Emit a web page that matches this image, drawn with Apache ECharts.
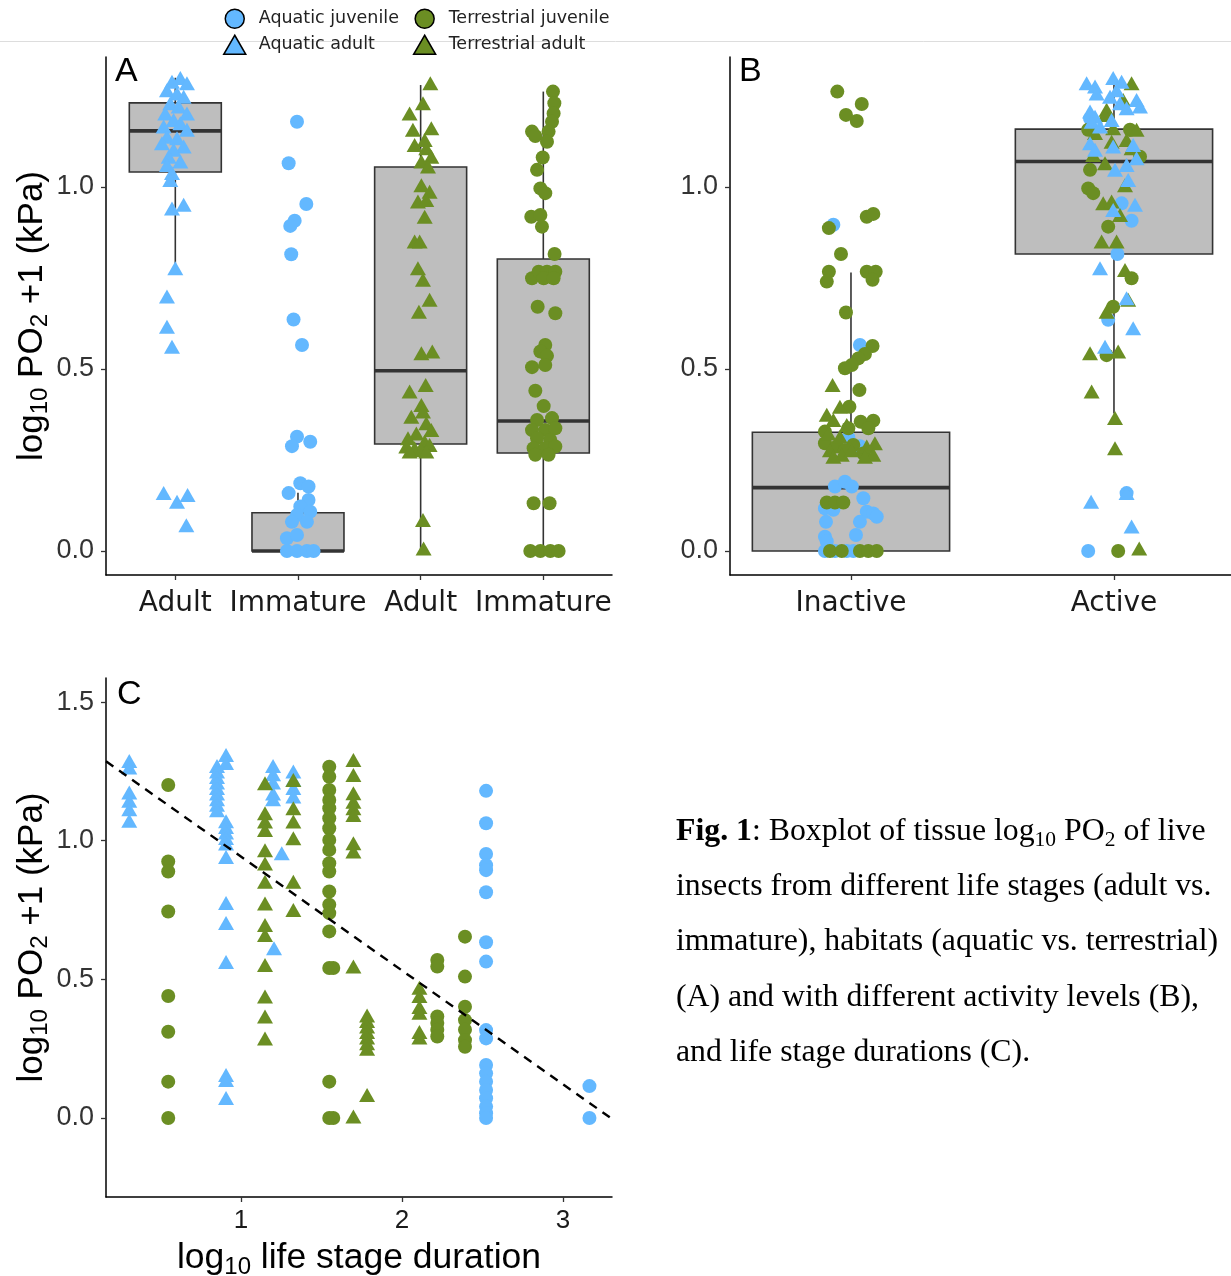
<!DOCTYPE html>
<html>
<head>
<meta charset="utf-8">
<script src="https://cdn.jsdelivr.net/npm/echarts@6/dist/echarts.min.js"></script>
<style>html,body{margin:0;padding:0;background:#fff;}#c{width:1231px;height:1276px;}</style>
</head>
<body>
<div id="c"></div>
<script>
// ---------- DATA ----------
const catA = ['Adult', 'Immature', 'Adult', 'Immature'];
const catB = ['Inactive', 'Active'];
const ticksYAB = [0, 0.5, 1.0];
const ticksYC = [0, 0.5, 1.0, 1.5];
const ticksXC = [1, 2, 3];

// boxes: [position, lowerWhisker, Q1, median, Q3, upperWhisker]
const boxA = [[1, 0.783, 1.041, 1.154, 1.231, 1.30], [2, 0, 0, 0, 0.105, 0.16], [3, 0, 0.294, 0.495, 1.055, 1.28], [4, 0, 0.269, 0.357, 0.802, 1.262]];
const boxB = [[1, 0, 0, 0.174, 0.326, 0.765], [2, 0.378, 0.816, 1.070, 1.159, 1.30]];

// Panel A jittered points [x, y]
const aqAdultA = [[0.973,1.289],[1.041,1.299],[1.095,1.285],[0.932,1.266],[1.014,1.257],[1.068,1.248],[0.959,1.230],[1.027,1.221],[0.918,1.202],[1.095,1.202],[0.986,1.184],[1.041,1.175],[0.905,1.166],[1.095,1.157],[0.932,1.138],[1.014,1.134],[0.891,1.120],[1.068,1.111],[0.986,1.102],[0.946,1.083],[1.041,1.070],[0.932,1.060],[0.973,1.038],[0.959,1.019],[0.973,0.941],[1.068,0.951],[1.000,0.777],[0.932,0.699],[0.932,0.616],[0.973,0.561],[0.905,0.159],[1.014,0.135],[1.100,0.154],[1.090,0.071]];
const aqJuvA = [[1.992,1.179],[1.924,1.065],[2.068,0.953],[1.973,0.907],[1.937,0.893],[1.945,0.815],[1.964,0.636],[2.033,0.566],[1.992,0.314],[2.100,0.300],[1.951,0.288],[2.019,0.186],[2.086,0.177],[1.924,0.159],[2.086,0.140],[2.019,0.122],[2.100,0.108],[1.992,0.099],[1.951,0.080],[2.073,0.080],[1.910,0.035],[1.992,0.044],[1.910,0],[1.992,0],[2.073,0],[2.127,0]];
const terAdultA = [[3.079,1.285],[3.019,1.230],[2.910,1.202],[3.087,1.161],[2.937,1.157],[3.033,1.129],[2.951,1.115],[3.046,1.106],[3.087,1.083],[3.006,1.070],[3.060,1.056],[3.006,1.005],[3.073,0.987],[2.978,0.960],[3.046,0.964],[3.033,0.918],[2.951,0.850],[2.992,0.850],[2.978,0.777],[3.019,0.745],[3.073,0.690],[2.986,0.657],[3.006,0.543],[3.095,0.548],[3.041,0.456],[2.910,0.438],[3.006,0.401],[3.019,0.383],[2.924,0.369],[3.046,0.351],[3.087,0.332],[2.965,0.323],[2.897,0.310],[3.033,0.300],[3.073,0.291],[2.883,0.287],[2.951,0.282],[3.006,0.277],[3.046,0.273],[2.910,0.273],[3.019,0.085],[3.024,0.007]];
const terJuvA = [[4.079,1.262],[4.090,1.230],[4.084,1.202],[4.071,1.179],[3.908,1.152],[3.935,1.140],[4.043,1.152],[4.030,1.124],[3.995,1.081],[3.949,1.047],[3.976,0.996],[4.016,0.983],[3.902,0.918],[3.976,0.923],[3.989,0.891],[4.092,0.816],[3.908,0.749],[3.962,0.767],[4.030,0.767],[4.098,0.767],[4.003,0.749],[4.084,0.749],[3.954,0.671],[4.098,0.653],[4.016,0.566],[3.976,0.548],[4.030,0.536],[3.908,0.505],[4.016,0.511],[3.935,0.440],[4.003,0.398],[3.949,0.360],[4.071,0.365],[3.908,0.332],[4.016,0.332],[4.098,0.337],[3.949,0.310],[4.057,0.305],[3.921,0.282],[4.016,0.282],[4.098,0.287],[3.935,0.264],[4.043,0.264],[3.921,0.131],[4.051,0.131],[3.894,0],[3.976,0],[4.057,0],[4.125,0]];

// Panel B jittered points [x, y]
const terJuvB = [[0.948,1.262],[1.041,1.228],[0.981,1.198],[1.022,1.181],[0.916,0.887],[1.060,0.918],[1.085,0.926],[0.962,0.816],[0.916,0.767],[0.908,0.740],[1.060,0.767],[1.094,0.767],[1.082,0.745],[0.981,0.655],[1.082,0.563],[1.053,0.541],[1.028,0.529],[1.003,0.511],[0.977,0.502],[1.032,0.442],[0.994,0.396],[1.037,0.355],[1.085,0.358],[1.066,0.337],[0.901,0.328],[0.901,0.296],[0.946,0.287],[0.990,0.337],[1.009,0.291],[1.047,0.268],[0.977,0.277],[0.908,0.133],[0.939,0.133],[0.971,0.133],[0.920,0],[0.965,0],[1.034,0],[1.066,0],[1.098,0],
  [1.902,1.157],[2.061,1.157],[2.099,1.083],[1.909,1.047],[1.902,0.996],[1.921,0.983],[1.978,0.891],[2.067,0.749],[1.997,0.671],[1.972,0.538],[2.016,0]];
const aqJuvB = [[0.933,0.896],[1.034,0.566],[0.990,0.312],[1.034,0.288],[0.939,0.177],[0.977,0.190],[1.003,0.177],[0.901,0.117],[0.933,0.113],[1.047,0.145],[1.060,0.108],[1.085,0.103],[1.098,0.094],[1.034,0.080],[0.905,0.080],[0.901,0.039],[0.908,0.026],[1.019,0.044],[0.901,0],[0.939,0],[0.984,0],[1.009,0],
  [1.909,1.188],[2.029,0.955],[2.067,0.907],[2.013,0.816],[1.978,0.635],[2.048,0.159],[1.902,0]];
const terAdultB = [[0.930,0.456],[0.908,0.374],[0.958,0.396],[0.933,0.360],[0.984,0.346],[0.914,0.323],[0.958,0.314],[0.920,0.277],[0.965,0.264],[1.003,0.277],[1.060,0.287],[1.091,0.296],[1.085,0.264],[1.053,0.259],[0.933,0.259],
  [2.067,1.285],[2.035,1.239],[1.972,1.212],[1.966,1.198],[2.086,1.157],[1.997,1.161],[1.928,1.148],[1.991,1.124],[2.048,1.129],[2.067,1.106],[1.921,1.088],[1.966,1.065],[2.042,1.005],[1.959,0.955],[1.991,0.960],[2.023,0.923],[1.953,0.850],[2.010,0.850],[2.042,0.772],[2.054,0.690],[1.972,0.657],[1.909,0.543],[2.016,0.548],[1.915,0.438],[2.004,0.365],[2.004,0.282],[2.096,0.007]];
const aqAdultB = [[1.896,1.285],[1.928,1.276],[1.997,1.299],[2.029,1.289],[2.010,1.266],[1.934,1.257],[2.086,1.239],[2.099,1.221],[1.909,1.207],[1.928,1.193],[1.985,1.248],[2.023,1.230],[2.048,1.216],[1.915,1.179],[1.947,1.166],[1.909,1.120],[1.928,1.102],[1.997,1.111],[2.073,1.115],[2.086,1.079],[1.991,1.184],[2.048,1.060],[2.004,1.047],[2.054,1.019],[2.080,0.951],[1.997,0.937],[1.947,0.777],[2.048,0.694],[2.073,0.612],[1.966,0.561],[1.913,0.135],[2.048,0.159],[2.067,0.067]];

// Panel C points [log10 duration, log10 PO2+1]
const aqAdultC = [[0.306,1.288],[0.306,1.264],[0.306,1.174],[0.306,1.144],[0.306,1.114],[0.306,1.072],
  [0.851,1.27],[0.851,1.25],[0.851,1.23],[0.851,1.21],[0.851,1.19],[0.851,1.17],[0.851,1.15],[0.851,1.13],[0.851,1.11],
  [0.907,1.309],[0.907,1.28],[0.907,1.07],[0.907,1.05],[0.907,1.03],[0.907,1.01],[0.907,0.99],[0.907,0.941],[0.907,0.775],[0.907,0.703],[0.907,0.563],[0.907,0.155],[0.907,0.137],[0.907,0.072],
  [1.199,1.27],[1.199,1.24],[1.199,1.21],[1.199,1.17],[1.199,1.15],[1.253,0.955],[1.205,0.612],
  [1.325,1.25],[1.325,1.22],[1.325,1.19],[1.325,1.16]];
const terAdultC = [[1.149,1.207],[1.149,1.099],[1.149,1.069],[1.149,1.039],[1.149,0.966],[1.149,0.918],[1.149,0.852],[1.149,0.774],[1.149,0.696],[1.149,0.660],[1.149,0.552],[1.149,0.438],[1.149,0.366],[1.149,0.287],
  [1.325,1.219],[1.325,1.117],[1.325,1.069],[1.325,1.009],[1.325,0.852],[1.325,0.750],
  [1.698,1.291],[1.698,1.237],[1.698,1.171],[1.698,1.141],[1.698,1.117],[1.698,1.093],[1.698,0.991],[1.698,0.961],[1.698,0.546],[1.698,0.005],
  [1.783,0.37],[1.783,0.35],[1.783,0.33],[1.783,0.31],[1.783,0.29],[1.783,0.27],[1.783,0.25],[1.783,0.083],
  [2.108,0.47],[2.108,0.44],[2.108,0.40],[2.108,0.38],[2.108,0.31],[2.108,0.29]];
const terJuvC = [[0.548,1.201],[0.548,0.925],[0.548,0.889],[0.548,0.745],[0.548,0.44],[0.548,0.311],[0.548,0.131],[0.548,0],
  [1.548,1.267],[1.548,1.231],[1.548,1.183],[1.548,1.147],[1.548,1.117],[1.548,1.081],[1.548,1.045],[1.548,1.003],[1.548,0.967],[1.548,0.919],[1.548,0.889],[1.548,0.817],[1.548,0.769],[1.548,0.739],[1.548,0.673],[1.548,0.541],[1.573,0.541],[1.548,0.131],[1.548,0],[1.573,0],
  [2.219,0.570],[2.219,0.546],[2.219,0.366],[2.219,0.343],[2.219,0.318],[2.219,0.294],
  [2.391,0.654],[2.391,0.510],[2.391,0.401],[2.391,0.353],[2.391,0.318],[2.391,0.281],[2.391,0.257]];
const aqJuvC = [[2.522,1.180],[2.522,1.063],[2.522,0.952],[2.522,0.912],[2.522,0.894],[2.522,0.814],[2.522,0.634],[2.522,0.564],[2.522,0.317],[2.522,0.287],[2.522,0.191],[2.522,0.161],[2.522,0.131],[2.522,0.101],[2.522,0.071],[2.522,0.041],[2.522,0.017],[2.522,0],
  [3.164,0.115],[3.164,0]];

// linear fit in panel C
const regIntercept = 1.353;
const regSlope = -0.4105;
const regXRange = [0.1615, 3.29];

// ---------- STYLE ----------
const BLUE = '#63b8ff', GREEN = '#6b8e23';
const SANS = 'Liberation Sans, Arial, sans-serif';
const DJV = 'DejaVu Sans, sans-serif';
const SERIF = 'Liberation Serif, Times New Roman, serif';
const CIRC = 14, TRI = [16, 14];
const BOX_W = 0.75;

const chart = echarts.init(document.getElementById('c'), null, {renderer: 'canvas'});

function boxRender(params, api) {
  const x = api.value(0);
  const lo = api.coord([x, api.value(1)]);
  const q1 = api.coord([x, api.value(2)]);
  const md = api.coord([x, api.value(3)]);
  const q3 = api.coord([x, api.value(4)]);
  const hi = api.coord([x, api.value(5)]);
  const w = api.size([BOX_W, 0])[0];
  const st = {stroke: '#333333', lineWidth: 1.6};
  return {type: 'group', children: [
    {type: 'line', shape: {x1: hi[0], y1: hi[1], x2: q3[0], y2: q3[1]}, style: st},
    {type: 'line', shape: {x1: lo[0], y1: lo[1], x2: q1[0], y2: q1[1]}, style: st},
    {type: 'rect', shape: {x: q3[0] - w / 2, y: q3[1], width: w, height: Math.max(q1[1] - q3[1], 0.5)}, style: {fill: '#bebebe', stroke: '#333333', lineWidth: 1.6}},
    {type: 'line', shape: {x1: md[0] - w / 2, y1: md[1], x2: md[0] + w / 2, y2: md[1]}, style: {stroke: '#333333', lineWidth: 3.6}}
  ]};
}

function yAxisDef(grid, min, max, ticks, withName) {
  return {
    gridIndex: grid, type: 'value', min: min, max: max,
    splitLine: {show: false},
    axisLine: {show: true, onZero: false, lineStyle: {color: '#000', width: 1.5}},
    axisTick: {show: true, customValues: ticks, length: 5, lineStyle: {color: '#333', width: 1.3}},
    axisLabel: {customValues: ticks, formatter: v => Number(v).toFixed(1), fontFamily: SANS, fontSize: 27, color: '#333', margin: 12},
    name: withName ? 'log{sub|10} PO{sub|2} +1 (kPa)' : '',
    nameLocation: 'middle', nameRotate: 90, nameGap: 51,
    nameTextStyle: {fontFamily: SANS, fontSize: 35, color: '#000',
      rich: {sub: {fontFamily: SANS, fontSize: 24, padding: [17, 0, 0, 0], color: '#000'}}}
  };
}

function xAxisDef(grid, min, max, ticks, fmt, font, size, margin) {
  return {
    gridIndex: grid, type: 'value', min: min, max: max,
    splitLine: {show: false},
    axisLine: {show: true, onZero: false, lineStyle: {color: '#000', width: 1.5}},
    axisTick: {show: true, customValues: ticks, length: 5, lineStyle: {color: '#333', width: 1.3}},
    axisLabel: {customValues: ticks, formatter: fmt, fontFamily: font, fontSize: size, color: '#1a1a1a', margin: margin}
  };
}

function pts(name, data, xi, yi, tri) {
  const col = name.indexOf('Aquatic') === 0 ? BLUE : GREEN;
  return {
    name: name, type: 'scatter', xAxisIndex: xi, yAxisIndex: yi, data: data,
    symbol: tri ? 'triangle' : 'circle', symbolSize: tri ? TRI : CIRC,
    itemStyle: {color: col, opacity: 1}, z: 3, silent: true, animation: false
  };
}

const xC = xAxisDef(2, 0.1615, 3.304, ticksXC, v => String(Math.round(v)), SANS, 26, 11);
xC.name = 'log{sub|10} life stage duration';
xC.nameLocation = 'middle';
xC.nameGap = 41;
xC.nameTextStyle = {fontFamily: SANS, fontSize: 35.5, color: '#000',
  rich: {sub: {fontFamily: SANS, fontSize: 24, padding: [17, 0, 0, 0], color: '#000'}}};

const option = {
  backgroundColor: '#fff',
  animation: false,
  grid: [
    {left: 106, top: 57, width: 506, height: 518, containLabel: false, outerBoundsMode: 'none'},
    {left: 730, top: 57, width: 501, height: 518, containLabel: false, outerBoundsMode: 'none'},
    {left: 106, top: 678, width: 506, height: 519, containLabel: false, outerBoundsMode: 'none'}
  ],
  xAxis: [
    xAxisDef(0, 0.435, 4.56, [1, 2, 3, 4], v => catA[Math.round(v) - 1], DJV, 28, 15),
    xAxisDef(1, 0.54, 2.445, [1, 2], v => catB[Math.round(v) - 1], DJV, 28, 15),
    xC
  ],
  yAxis: [
    yAxisDef(0, -0.066, 1.357, ticksYAB, true),
    yAxisDef(1, -0.066, 1.357, ticksYAB, false),
    yAxisDef(2, -0.285, 1.587, ticksYC, true)
  ],
  title: [
    {text: 'A', left: 115, top: 55, padding: 0, textStyle: {fontFamily: SANS, fontSize: 34, fontWeight: 'normal', color: '#000'}},
    {text: 'B', left: 739, top: 55, padding: 0, textStyle: {fontFamily: SANS, fontSize: 34, fontWeight: 'normal', color: '#000'}},
    {text: 'C', left: 117, top: 678, padding: 0, textStyle: {fontFamily: SANS, fontSize: 34, fontWeight: 'normal', color: '#000'}}
  ],
  legend: [
    {left: 224.5, top: 8.5, padding: 0, itemWidth: 19, itemHeight: 19, itemGap: 15.5, selectedMode: false,
      textStyle: {fontFamily: DJV, fontSize: 17.5, color: '#222', padding: [0, 0, 0, 9.5]},
      data: [
        {name: 'Aquatic juvenile', icon: 'circle', itemStyle: {color: BLUE, borderColor: '#000', borderWidth: 1.5}},
        {name: 'Terrestrial juvenile', icon: 'circle', itemStyle: {color: GREEN, borderColor: '#000', borderWidth: 1.5}}
      ]},
    {left: 223, top: 34.5, padding: 0, itemWidth: 22, itemHeight: 19, itemGap: 38, selectedMode: false,
      textStyle: {fontFamily: DJV, fontSize: 17.5, color: '#222', padding: [0, 0, 0, 8]},
      data: [
        {name: 'Aquatic adult', icon: 'triangle', itemStyle: {color: BLUE, borderColor: '#000', borderWidth: 1.5}},
        {name: 'Terrestrial adult', icon: 'triangle', itemStyle: {color: GREEN, borderColor: '#000', borderWidth: 1.5}}
      ]}
  ],
  graphic: [
    {type: 'line', z: -10, shape: {x1: 0, y1: 41.5, x2: 1231, y2: 41.5}, style: {stroke: '#dddddd', lineWidth: 1}},
    {type: 'text', left: 676, top: 804, style: {
      text: '{b|Fig. 1}: Boxplot of tissue log{s|10} PO{s|2} of live\ninsects from different life stages (adult vs.\nimmature), habitats (aquatic vs. terrestrial)\n(A) and with different activity levels (B),\nand life stage durations (C).',
      fontFamily: SERIF, fontSize: 31.8, lineHeight: 55.2, fill: '#000',
      rich: {
        b: {fontFamily: SERIF, fontSize: 31.8, fontWeight: 'bold', lineHeight: 55.2, fill: '#000'},
        s: {fontFamily: SERIF, fontSize: 21.5, lineHeight: 21.5, padding: [18, 0, 0, 0], fill: '#000'}
      }}}
  ],
  series: [
    {type: 'custom', xAxisIndex: 0, yAxisIndex: 0, data: boxA, renderItem: boxRender, encode: {x: 0, y: [1, 2, 3, 4, 5]}, z: 1, silent: true},
    {type: 'custom', xAxisIndex: 1, yAxisIndex: 1, data: boxB, renderItem: boxRender, encode: {x: 0, y: [1, 2, 3, 4, 5]}, z: 1, silent: true},
    pts('Aquatic adult', aqAdultA, 0, 0, true),
    pts('Aquatic juvenile', aqJuvA, 0, 0, false),
    pts('Terrestrial adult', terAdultA, 0, 0, true),
    pts('Terrestrial juvenile', terJuvA, 0, 0, false),
    pts('Aquatic juvenile', aqJuvB, 1, 1, false),
    pts('Terrestrial juvenile', terJuvB, 1, 1, false),
    pts('Terrestrial adult', terAdultB, 1, 1, true),
    pts('Aquatic adult', aqAdultB, 1, 1, true),
    pts('Aquatic adult', aqAdultC, 2, 2, true),
    pts('Terrestrial adult', terAdultC, 2, 2, true),
    pts('Terrestrial juvenile', terJuvC, 2, 2, false),
    pts('Aquatic juvenile', aqJuvC, 2, 2, false),
    {type: 'line', xAxisIndex: 2, yAxisIndex: 2, z: 4, silent: true, symbol: 'none',
      data: regXRange.map(x => [x, regIntercept + regSlope * x]),
      lineStyle: {color: '#000', width: 2.4, type: [9, 7]}}
  ]
};
chart.setOption(option);
</script>
</body>
</html>
